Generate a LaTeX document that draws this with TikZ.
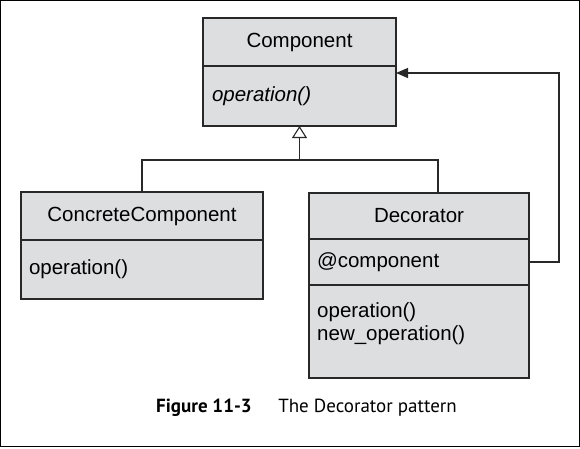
\documentclass[tikz,border=0pt]{standalone}
\usepackage{fontspec}
\setmainfont{Liberation Sans}
\newfontfamily\capfont{PT Sans}
\usetikzlibrary{arrows.meta,calc}
\definecolor{linec}{RGB}{40,40,40}
\definecolor{boxfill}{RGB}{221,222,224}
\tikzset{
  umlbox/.style={draw=linec, fill=boxfill, line width=1.2pt, inner sep=0pt, outer sep=0pt, anchor=north west, font=\fontsize{20.5}{23}\selectfont},
  conn/.style={draw=linec, line width=1.2pt},
  boxtext/.style={inner sep=0pt, anchor=north west, align=left, font=\fontsize{20.5}{23}\selectfont}
}
\begin{document}
\begin{tikzpicture}[x=1pt,y=-1pt]
\useasboundingbox (0,0) rectangle (580,448);
\draw[line width=1.4pt, draw=black] (0.7,0.7) rectangle (579.3,446.3);
% Component
\node[umlbox, minimum width=193pt, minimum height=48pt] (cname) at (203,18) {Component};
\node[umlbox, minimum width=193pt, minimum height=60pt, text width=175pt, inner xsep=9pt, align=left] (cops) at (203,66) {\itshape operation()};
% ConcreteComponent
\node[umlbox, minimum width=242pt, minimum height=48pt] (ccname) at (21,192) {ConcreteComponent};
\node[umlbox, minimum width=242pt, minimum height=59pt, text width=226pt, inner xsep=8pt, align=left] (ccops) at (21,240) {operation()};
% Decorator
\node[umlbox, minimum width=220pt, minimum height=46pt] (dname) at (309,193) {Decorator};
\node[umlbox, minimum width=220pt, minimum height=46pt, text width=204pt, inner xsep=8pt, align=left] (datt) at (309,239) {@component};
\node[umlbox, minimum width=220pt, minimum height=93pt] (dops) at (309,285) {};
\node[boxtext] (dopstext) at (317,302) {operation()\\new\_operation()};
% connectors
\coordinate (join) at (299.5,160);
\coordinate (dtop) at (438,193);
\coordinate (aend) at (396,73);
\draw[conn] (ccname.north) |- (join) -| (dtop);
\draw[conn, -{Triangle[open, length=12pt, width=15pt, line width=1.1pt]}] (join) -- (cops.south);
\draw[conn, -{Triangle[length=12pt, width=10pt]}] (datt.east) -| (559,130) |- (aend);
% caption
\node[font=\capfont\fontsize{19}{22}\selectfont, inner sep=0pt] (cap) at (306.5,408) {\textbf{Figure 11-3}\hspace{1.4em}The Decorator pattern};
\end{tikzpicture}
\end{document}
